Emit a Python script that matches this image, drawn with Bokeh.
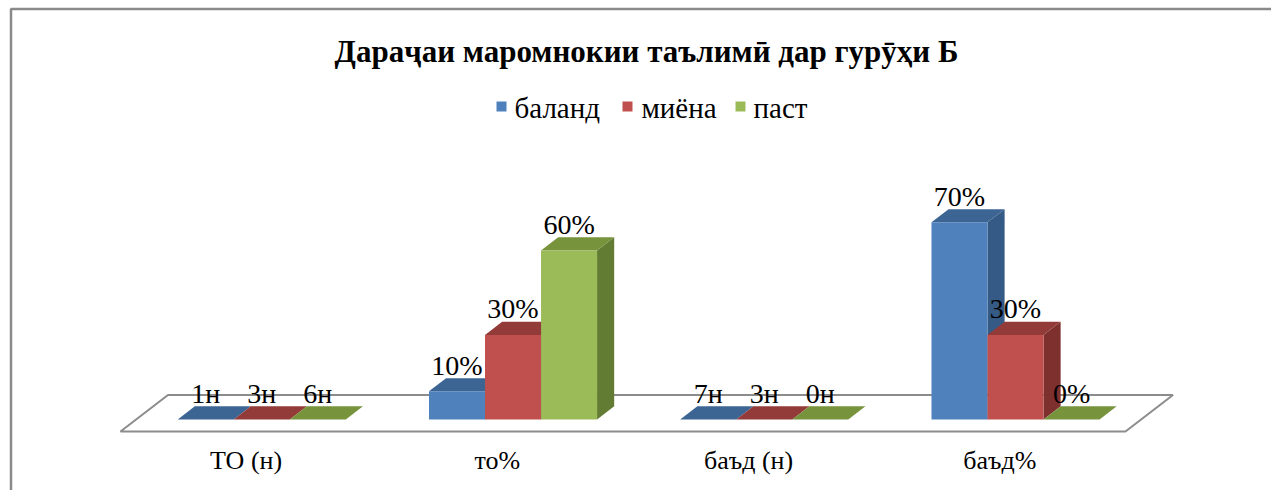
from bokeh.plotting import figure
from bokeh.models import Range1d
from bokeh.core.properties import value
from bokeh.embed import file_html
from bokeh.resources import INLINE

# ---------------- data ----------------
categories = ["ТО (н)", "то%", "баъд (н)", "баъд%"]
is_count = [True, False, True, False]      # count rows are text in the source table (flat bars)
series_names = ["баланд", "миёна", "паст"]
baland = [1, 10, 7, 70]
miyona = [3, 30, 3, 30]
past = [6, 60, 0, 0]
series_values = [baland, miyona, past]
title_text = "Дараҷаи маромнокии таълимӣ дар гурӯҳи Б"

# ---------------- style ----------------
front_colors = ["#4F81BD", "#C0504D", "#9BBB59"]
top_colors = ["#3C6594", "#923B38", "#77933C"]
side_colors = ["#355A86", "#7D302E", "#637C33"]
FONT = value("Liberation Serif")

W, H = 1271, 490
SX = 251.25   # px per category
SY = 2.817    # px per percent
x0 = -245.6 / SX
y0 = -(H - 431.0) / SY
DXZ = 47.5 / SX   # projection shift per unit depth
DYZ = 36.5 / SY
Z_F, Z_B = 0.33, 0.69
GROUP_W = 0.669
BAR_W = GROUP_W / 3


def X(px):  # page px -> data x
    return x0 + px / SX


def Y(py):  # page px -> data y
    return y0 + (H - py) / SY


def proj(x, v, z):
    return x + z * DXZ, v + z * DYZ


p = figure(width=W, height=H, x_range=Range1d(x0, x0 + W / SX),
           y_range=Range1d(y0, y0 + H / SY), output_backend="svg",
           toolbar_location=None, min_border=0,
           x_axis_location=None, y_axis_location=None)
p.grid.visible = False
p.outline_line_color = None
p.background_fill_color = "white"

# chart border (left and top edges visible)
p.line([X(10.5), X(10.5), X(1300)], [Y(500), Y(8.5), Y(8.5)], line_color="#8A8A8A", line_width=2.5)

# floor
n = len(categories)
corners = [(-0.5, 0), (n - 0.5, 0), (n - 0.5, 1), (-0.5, 1)]
fx, fy = zip(*[proj(cx, 0, cz) for cx, cz in corners])
p.patch(list(fx), list(fy), fill_color="white", line_color="#8C8C8C", line_width=2)

# bars
lab_x, lab_y, lab_t = [], [], []
for j, vals in enumerate(series_values):
    sides_x, sides_y, tops_x, tops_y, fr_x, fr_y = [], [], [], [], [], []
    for i, v in enumerate(vals):
        h = 0 if is_count[i] else v
        xl = i - GROUP_W / 2 + j * BAR_W
        xr = xl + BAR_W
        side = [proj(xr, 0, Z_F), proj(xr, 0, Z_B), proj(xr, h, Z_B), proj(xr, h, Z_F)]
        top = [proj(xl, h, Z_F), proj(xr, h, Z_F), proj(xr, h, Z_B), proj(xl, h, Z_B)]
        front = [proj(xl, 0, Z_F), proj(xr, 0, Z_F), proj(xr, h, Z_F), proj(xl, h, Z_F)]
        if h > 0:
            sides_x.append([a for a, b in side]); sides_y.append([b for a, b in side])
            fr_x.append([a for a, b in front]); fr_y.append([b for a, b in front])
        tops_x.append([a for a, b in top]); tops_y.append([b for a, b in top])
        cx, _ = proj((xl + xr) / 2, 0, Z_F)
        lab_x.append(cx)
        lab_y.append(h + Z_B * DYZ + 13 / SY)
        lab_t.append(f"{v}н" if is_count[i] else f"{v}%")
    if sides_x:
        p.patches(sides_x, sides_y, fill_color=side_colors[j], line_color=None)
    p.patches(tops_x, tops_y, fill_color=top_colors[j], line_color=None)
    if fr_x:
        p.patches(fr_x, fr_y, fill_color=front_colors[j], line_color=None)

# data labels
p.text(lab_x, lab_y, text=lab_t, text_font=FONT, text_font_size="28px",
       text_align="center", text_baseline="middle", text_color="#000000")

# category labels
p.text(list(range(n)), [-29 / SY] * n, text=categories, text_font=FONT,
       text_font_size="26px", text_align="center", text_baseline="middle",
       text_color="#000000")

# title
p.text([X(646)], [Y(51)], text=[title_text], text_font=FONT, text_font_size="31px",
       text_font_style="bold", text_align="center", text_baseline="middle",
       text_color="#000000")

# legend (manual, Excel style)
leg_sq_x = [501, 627, 740]
leg_tx = [514, 641, 753]
p.scatter([X(v) for v in leg_sq_x], [Y(106)] * 3, marker="square", size=10,
          fill_color=front_colors, line_color=None)
p.text([X(v) for v in leg_tx], [Y(107)] * 3, text=series_names, text_font=FONT,
       text_font_size="29px", text_align="left", text_baseline="middle",
       text_color="#000000")

open("out.html", "w").write(file_html(p, INLINE))
